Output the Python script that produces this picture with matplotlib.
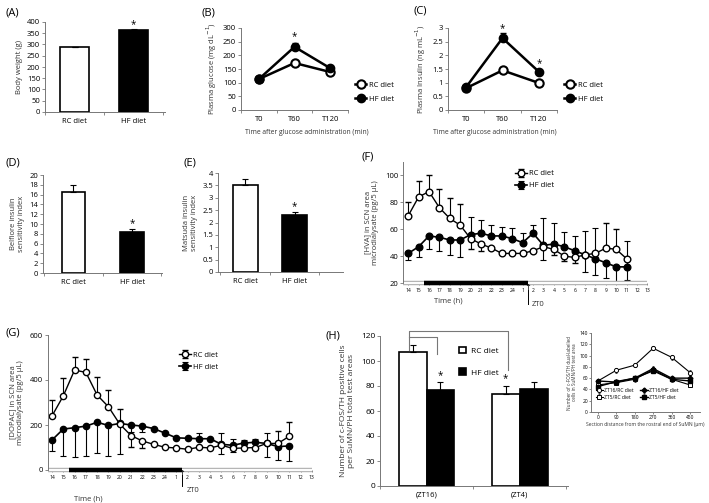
import matplotlib
matplotlib.use("Agg")
import matplotlib.pyplot as plt

plt.rcParams['font.family'] = ['Open Sans', 'DejaVu Sans']
plt.rcParams['axes.linewidth'] = 0.7
plt.rcParams['axes.edgecolor'] = '#777777'

# ---- data ----
diets = ["RC diet", "HF diet"]
body_weight = [288, 365]
body_weight_err = [3, 5]

times_ogtt = ["T0", "T60", "T120"]
glucose_rc = [113, 172, 139]
glucose_hf = [113, 231, 153]
insulin_rc = [0.80, 1.45, 0.99]
insulin_hf = [0.84, 2.63, 1.40]
insulin_hf_err = [0.03, 0.18, 0.08]

belfiore = [16.5, 8.3]
belfiore_err = [1.4, 0.7]
matsuda = [3.52, 2.31]
matsuda_err = [0.25, 0.12]

hour_labels = ["14", "15", "16", "17", "18", "19", "20", "21", "22", "23", "24",
               "1", "2", "3", "4", "5", "6", "7", "8", "9", "10", "11", "12", "13"]

hva_rc = [70, 84, 88, 76, 68, 63, 53, 49, 46, 42, 42, 42, 44, 47, 45, 40, 39, 41, 42, 46, 45, 38]
hva_rc_lo = [0, 0, 0, 0, 0, 0, 8, 5, 0, 0, 0, 0, 0, 0, 4, 4, 4, 0, 0, 0, 0, 0]
hva_rc_hi = [10, 12, 12, 14, 15, 16, 0, 0, 0, 0, 0, 0, 0, 0, 0, 0, 0, 0, 0, 19, 15, 0]
hva_hf = [42, 47, 55, 54, 52, 52, 56, 57, 55, 55, 53, 50, 57, 48, 49, 47, 44, 41, 38, 35, 32, 32]
hva_hf_lo = [5, 8, 10, 10, 11, 13, 0, 0, 0, 0, 0, 0, 0, 11, 0, 0, 0, 13, 12, 11, 12, 10]
hva_hf_hi = [0, 0, 0, 0, 0, 0, 13, 10, 8, 7, 8, 7, 6, 20, 16, 11, 11, 18, 23, 0, 0, 19]

dopac_rc = [240, 329, 444, 434, 333, 281, 204, 153, 129, 114, 101, 98, 92, 101, 98, 110, 96, 98, 100, 118, 118, 150]
dopac_rc_lo = [0, 0, 0, 0, 0, 0, 0, 49, 33, 0, 0, 0, 0, 0, 0, 0, 0, 0, 0, 0, 0, 0]
dopac_rc_hi = [70, 78, 59, 58, 81, 74, 65, 0, 0, 0, 0, 0, 0, 0, 0, 0, 0, 0, 0, 0, 55, 64]
dopac_hf = [133, 182, 188, 195, 212, 198, 207, 200, 195, 184, 164, 143, 141, 139, 139, 114, 110, 120, 123, 118, 104, 107]
dopac_hf_lo = [49, 120, 132, 133, 138, 136, 136, 30, 25, 0, 0, 0, 0, 0, 0, 45, 30, 0, 0, 62, 59, 65]
dopac_hf_hi = [0, 0, 0, 0, 0, 0, 0, 0, 0, 0, 0, 0, 0, 25, 0, 50, 30, 15, 15, 45, 0, 0]

zt_groups = ["(ZT16)", "(ZT4)"]
cfos_rc = [107, 74]
cfos_hf = [77, 77.5]
cfos_rc_err = [6, 6]
cfos_hf_err = [6, 6]

section_um = [0, 90, 180, 270, 360, 450]
zt16_rc = [55, 74, 83, 113, 97, 70]
zt5_rc = [48, 52, 58, 75, 58, 48]
zt16_hf = [55, 53, 60, 77, 60, 60]
zt5_hf = [45, 54, 60, 73, 58, 55]

# ---- layout helpers (pixel coordinates, origin top-left) ----
W, H = 709, 503
fig = plt.figure(figsize=(W / 100, H / 100), dpi=100)


def box(x0, y0, x1, y1):
    return fig.add_axes([x0 / W, 1 - y1 / H, (x1 - x0) / W, (y1 - y0) / H])


def ftext(x, y, s, **kw):
    fig.text(x / W, 1 - y / H, s, **kw)


def style(ax, fs=5.5):
    for s in ["top", "right"]:
        ax.spines[s].set_visible(False)
    ax.tick_params(labelsize=fs, length=2, width=0.6, color='#777777', pad=1.5)


def cat_axis(ax, labels, fs=5.5):
    n = len(labels)
    ax.set_xticks(range(n), labels)
    ax.tick_params(axis='x', length=0, pad=4)
    ax.set_xticks([i - 0.5 for i in range(n + 1)], minor=True)
    ax.tick_params(axis='x', which='minor', length=2, width=0.6, color='#777777')


def bar_panel(ax, vals, errs, xlim, ylim, yticks, width, ylabel):
    style(ax)
    ax.bar(range(2), vals, width, color=['white', 'black'], edgecolor='black', linewidth=1.2,
           yerr=[[0, 0], errs], error_kw=dict(ecolor='black', elinewidth=0.8, capsize=2, capthick=0.8))
    ax.set_xlim(*xlim)
    ax.set_ylim(*ylim)
    ax.set_yticks(yticks)
    cat_axis(ax, diets)
    ax.set_ylabel(ylabel, fontsize=5.5, labelpad=3, color='#333333')


# (A) body weight
axA = box(45, 22, 165, 112)
bar_panel(axA, body_weight, body_weight_err, (-0.5, 1.53), (0, 400), range(0, 401, 50), 0.5, "Body weight (g)")
axA.text(1, body_weight[1] + body_weight_err[1] + 8, "*", ha='center', fontsize=7)
ftext(5, 13, "(A)", fontsize=8, va='center')


# (B), (C) OGTT lines
def ogtt_panel(ax, rc, hf, ylim, yticks, ylabel):
    style(ax)
    x = range(3)
    ax.plot(x, rc, '-o', color='black', mfc='white', mec='black', ms=6, lw=1.8, mew=1.5, label="RC diet")
    ax.plot(x, hf, '-o', color='black', mfc='black', ms=6, lw=1.8, label="HF diet")
    ax.set_xlim(-0.5, 2.5)
    ax.set_ylim(*ylim)
    ax.set_yticks(yticks)
    cat_axis(ax, times_ogtt)
    ax.set_ylabel(ylabel, fontsize=5.5, labelpad=3, color='#333333')
    ax.legend(loc='center left', bbox_to_anchor=(1.0, 0.22), frameon=False, fontsize=5.5,
              handlelength=1.5, handletextpad=0.3, labelspacing=0.9)


axB = box(241, 28, 348, 110)
ogtt_panel(axB, glucose_rc, glucose_hf, (0, 300), range(0, 301, 50), "Plasma glucose (mg dL$^{-1}$)")
axB.errorbar([1], [glucose_hf[1]], yerr=[[0], [14]], fmt='none', ecolor='black', elinewidth=0.8, capsize=2)
axB.text(1, 260, "*", ha='center', fontsize=7)
ftext(202, 13, "(B)", fontsize=8, va='center')
ftext(245, 133, "Time after glucose administration (min)", fontsize=4.9, va='center', color='#333333')

axC = box(448, 28, 557, 110)
ogtt_panel(axC, insulin_rc, insulin_hf, (0, 3), [0, 0.5, 1, 1.5, 2, 2.5, 3], "Plasma Insulin (ng mL$^{-1}$)")
axC.set_yticklabels(["0", "0.5", "1", "1.5", "2", "2.5", "3"])
axC.errorbar(range(3), insulin_hf, yerr=[[0, 0, 0], insulin_hf_err], fmt='none', ecolor='black', elinewidth=0.8, capsize=2)
axC.text(1, 2.9, "*", ha='center', fontsize=7)
axC.text(2, 1.62, "*", ha='center', fontsize=7)
ftext(413, 11, "(C)", fontsize=8, va='center')
ftext(433, 133, "Time after glucose administration (min)", fontsize=4.9, va='center', color='#333333')

# (D) Belfiore
axD = box(43, 175, 162, 273)
bar_panel(axD, belfiore, belfiore_err, (-0.52, 1.51), (0, 20), range(0, 21, 2), 0.4,
          "Belfiore insulin\nsensitivity index")
axD.text(1, belfiore[1] + belfiore_err[1] + 0.6, "*", ha='center', fontsize=7)
ftext(5, 163, "(D)", fontsize=8, va='center')

# (E) Matsuda
axE = box(218, 173, 343, 272)
bar_panel(axE, matsuda, matsuda_err, (-0.55, 1.98), (0, 4), [0, 0.5, 1, 1.5, 2, 2.5, 3, 3.5, 4], 0.5,
          "Matsuda insulin\nsensitivity index")
axE.set_yticklabels(["0", "0.5", "1", "1.5", "2", "2.5", "3", "3.5", "4"])
axE.text(1, matsuda[1] + matsuda_err[1] + 0.1, "*", ha='center', fontsize=7)
ftext(183, 163, "(E)", fontsize=8, va='center')


# (F), (G) microdialysis time courses
def time_panel(ax, rc, rc_lo, rc_hi, hf, hf_lo, hf_hi, xlim, ylim, yticks, ylabel, ms):
    style(ax)
    ax.spines['bottom'].set_visible(False)
    x = list(range(len(rc)))
    ekw = dict(ecolor='black', elinewidth=0.8, capsize=2, capthick=0.8)
    ax.errorbar(x, hf, yerr=[hf_lo, hf_hi], color='black', marker='o', mfc='black', mec='black',
                ms=ms, lw=1.2, label="HF diet", **ekw)
    ax.errorbar(x, rc, yerr=[rc_lo, rc_hi], color='black', marker='o', mfc='white', mec='black',
                ms=ms, mew=1.0, lw=1.0, label="RC diet", **ekw)
    ax.set_xlim(*xlim)
    ax.set_ylim(*ylim)
    ax.set_yticks(yticks)
    ax.set_xticks(range(len(hour_labels)), hour_labels)
    ax.tick_params(axis='x', labelsize=3.6, length=1.5, pad=2)
    ax.tick_params(axis='y', labelsize=5.5)
    y0 = ylim[0]
    ax.plot([xlim[0], 23], [y0, y0], color='#b5b5b5', lw=3.2, clip_on=False, solid_capstyle='butt')
    ax.plot([xlim[0], 23], [y0, y0], color='white', lw=1.4, clip_on=False, solid_capstyle='butt')
    ax.plot([1.5, 11.5], [y0, y0], color='black', lw=3.2, clip_on=False, solid_capstyle='butt')
    ax.set_ylabel(ylabel, fontsize=5.5, labelpad=4, color='#333333')
    h, l = ax.get_legend_handles_labels()
    return h[::-1], l[::-1]


axF = box(403, 162, 648, 283)
h, l = time_panel(axF, hva_rc, hva_rc_lo, hva_rc_hi, hva_hf, hva_hf_lo, hva_hf_hi,
                  (-0.5, 23.05), (20, 110), range(20, 101, 20),
                  "[HVA] in SCN area\nmicrodialysate (pg/5 μL)", 4.8)
axF.legend(h, l, loc='upper left', bbox_to_anchor=(0.43, 0.99), frameon=False, fontsize=5.5,
           handlelength=1.5, handletextpad=0.3, labelspacing=0.6)
ftext(362, 157, "(F)", fontsize=8, va='center')
ftext(448, 301, "Time (h)", fontsize=5.5, ha='center', va='center', color='#333333')
fig.add_artist(plt.Line2D([528 / W, 528 / W], [1 - 304 / H, 1 - 290 / H], color='black', lw=0.7))
ftext(528, 289, "↑", fontsize=6, ha='center', va='center')
ftext(532, 305, "ZT0", fontsize=5.5, va='center', color='#333333')

axG = box(48, 335, 313, 470)
h, l = time_panel(axG, dopac_rc, dopac_rc_lo, dopac_rc_hi, dopac_hf, dopac_hf_lo, dopac_hf_hi,
                  (-0.35, 23.1), (0, 600), [0, 200, 400, 600],
                  "[DOPAC] in SCN area\nmicrodialysate (pg/5 μL)", 4.5)
axG.legend(h, l, loc='upper left', bbox_to_anchor=(0.47, 0.93), frameon=False, fontsize=5.5,
           handlelength=1.5, handletextpad=0.3, labelspacing=0.6)
ftext(5, 333, "(G)", fontsize=8, va='center')
ftext(88, 499, "Time (h)", fontsize=5.5, ha='center', va='center', color='#333333')
fig.add_artist(plt.Line2D([182 / W, 182 / W], [1 - 486 / H, 1 - 475 / H], color='black', lw=0.7))
ftext(182, 474, "↑", fontsize=6, ha='center', va='center')
ftext(187, 490, "ZT0", fontsize=5.5, va='center', color='#333333')

# (H) c-FOS/TH bars
axH = box(380, 336, 568, 486)
style(axH, fs=6)
bw = 0.3
xg = [0, 1]
axH.bar([x - bw / 2 for x in xg], cfos_rc, bw, color='white', edgecolor='black', lw=1.2,
        yerr=[[0, 0], cfos_rc_err], error_kw=dict(elinewidth=0.8, capsize=2, capthick=0.8), label="RC diet")
axH.bar([x + bw / 2 for x in xg], cfos_hf, bw, color='black', edgecolor='black', lw=1.2,
        yerr=[[0, 0], cfos_hf_err], error_kw=dict(elinewidth=0.8, capsize=2, capthick=0.8), label="HF diet")
axH.set_xlim(-0.5, 1.52)
axH.set_ylim(0, 120)
axH.set_yticks(range(0, 121, 20))
cat_axis(axH, zt_groups)
axH.tick_params(axis='x', labelsize=5.5)
axH.set_ylabel("Number of c-FOS/TH positive cells\nper SuMN/PH total test areas", fontsize=6,
               labelpad=4, color='#333333')
axH.plot([-0.19, -0.19, 0.87, 0.87], [109, 124, 124, 93], color='#777777', lw=0.8, clip_on=False)
axH.plot([-0.19, 0.11, 0.11], [119, 119, 106], color='#777777', lw=0.8, clip_on=False)
axH.text(0.15, 86, "*", ha='center', fontsize=7)
axH.text(0.85, 84, "*", ha='center', fontsize=7)
axH.legend(loc='upper left', bbox_to_anchor=(0.38, 0.98), frameon=False, fontsize=6,
           handlelength=0.8, handleheight=0.9, handletextpad=0.6, labelspacing=1.6)
ftext(325, 336, "(H)", fontsize=8, va='center')

# inset: section distribution
axI = box(591, 333, 700, 412)
style(axI, fs=3.5)
axI.tick_params(length=1.2, pad=1)
ekw = dict(elinewidth=0.5, capsize=1, capthick=0.5, ecolor='#444444')
axI.errorbar(section_um, zt16_rc, yerr=4, color='black', marker='o', mfc='white', ms=3, lw=0.8, mew=0.7,
             label="ZT16/RC diet", **ekw)
axI.errorbar(section_um, zt5_rc, yerr=4, color='black', marker='s', mfc='white', ms=2.8, lw=0.8, mew=0.7,
             label="ZT5/RC diet", **ekw)
axI.errorbar(section_um, zt16_hf, yerr=4, color='black', marker='D', mfc='black', ms=2.5, lw=1.0,
             label="ZT16/HF diet", **ekw)
axI.errorbar(section_um, zt5_hf, yerr=4, color='black', marker='s', mfc='black', ms=2.8, lw=1.0,
             label="ZT5/HF diet", **ekw)
axI.set_xlim(-34, 499)
axI.set_ylim(0, 140)
axI.set_xticks(section_um)
axI.set_yticks(range(0, 141, 20))
axI.set_xlabel("Section distance from the rostral end of SuMN (μm)", fontsize=3.6, labelpad=1.5, color='#333333')
axI.set_ylabel("Number of c-FOS/TH dual-labelled\ncells in SuMN/PH test area", fontsize=3.3,
               labelpad=1.5, color='#333333')
axI.legend(loc='lower left', bbox_to_anchor=(0.0, 0.1), ncol=2, frameon=False, fontsize=3.6,
           handlelength=1.5, handletextpad=0.3, columnspacing=1.2, labelspacing=0.3)

fig.savefig("out.png", dpi=100)
